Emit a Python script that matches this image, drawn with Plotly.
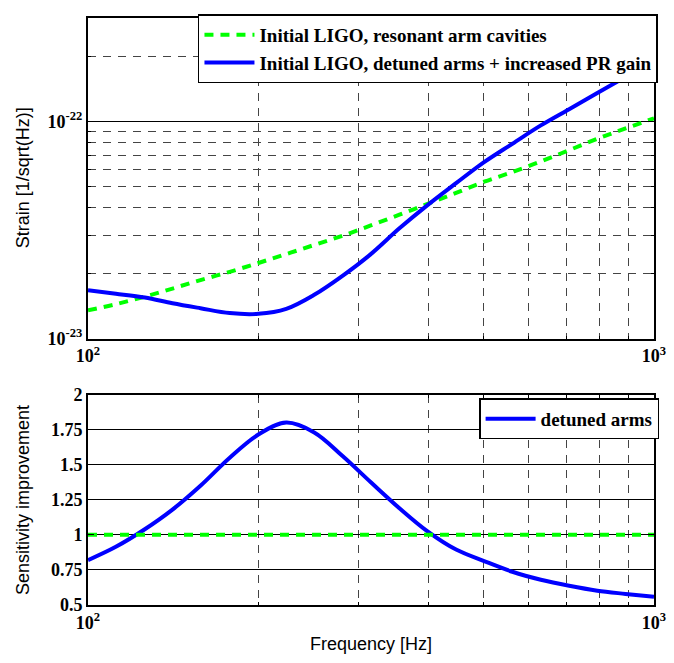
import plotly.graph_objects as go
from plotly.subplots import make_subplots

# ---- data ----
freq = [100, 112, 126, 141, 158, 178, 200, 224, 251, 282, 316, 355, 398, 447,
        501, 562, 631, 708, 794, 891, 1000]
strain_resonant = [1.35e-23, 1.44e-23, 1.56e-23, 1.70e-23, 1.86e-23, 2.03e-23,
                   2.23e-23, 2.45e-23, 2.70e-23, 2.98e-23, 3.32e-23, 3.72e-23,
                   4.17e-23, 4.69e-23, 5.28e-23, 5.85e-23, 6.55e-23, 7.38e-23,
                   8.33e-23, 9.30e-23, 1.035e-22]
strain_detuned = [1.67e-23, 1.61e-23, 1.545e-23, 1.455e-23, 1.38e-23, 1.31e-23,
                  1.30e-23, 1.37e-23, 1.59e-23, 1.95e-23, 2.45e-23, 3.22e-23,
                  4.12e-23, 5.2e-23, 6.5e-23, 7.9e-23, 9.6e-23, 1.14e-22,
                  1.355e-22, 1.605e-22, 1.90e-22]
improvement = [0.82, 0.915, 1.04, 1.18, 1.35, 1.55, 1.715, 1.80, 1.73, 1.56,
               1.375, 1.19, 1.025, 0.895, 0.813, 0.737, 0.68, 0.637, 0.602,
               0.579, 0.558]
baseline = [1.0] * len(freq)

legend_top = ["Initial LIGO, resonant arm cavities",
              "Initial LIGO, detuned arms + increased PR gain"]
legend_bot = "detuned arms"

x_ticks = [100, 1000]
x_ticktext = ["10<sup>2</sup>", "10<sup>3</sup>"]
x_minor = [200, 300, 400, 500, 600, 700, 800, 900]
y_top_ticks = [1e-23, 1e-22]
y_top_text = ["10<sup>-23</sup>", "10<sup>-22</sup>"]
y_top_minor = [2e-23, 3e-23, 4e-23, 5e-23, 6e-23, 7e-23, 8e-23, 9e-23, 2e-22, 3e-22]
y_bot_ticks = [0.5, 0.75, 1, 1.25, 1.5, 1.75, 2]
y_bot_text = ["0.5", "0.75", "1", "1.25", "1.5", "1.75", "2"]

BLUE = "#0000FF"
GREEN = "#00FF00"
TICKFONT = dict(family="Liberation Serif", size=18, color="black", weight="bold")
TITLEFONT = dict(family="Liberation Sans", size=18, color="black")
LEGFONT = dict(family="Liberation Serif", size=19, color="black", weight="bold")

fig = make_subplots(rows=2, cols=1, vertical_spacing=0.1)

fig.add_trace(go.Scatter(x=freq, y=strain_resonant, mode="lines",
                         name=legend_top[0], legend="legend",
                         line=dict(color=GREEN, width=4, dash="9px,7px", shape="spline")),
              row=1, col=1)
fig.add_trace(go.Scatter(x=freq, y=strain_detuned, mode="lines",
                         name=legend_top[1], legend="legend",
                         line=dict(color=BLUE, width=4, shape="spline")),
              row=1, col=1)
fig.add_trace(go.Scatter(x=freq, y=improvement, mode="lines",
                         name=legend_bot, legend="legend2",
                         line=dict(color=BLUE, width=4, shape="spline")),
              row=2, col=1)
fig.add_trace(go.Scatter(x=freq, y=baseline, mode="lines",
                         showlegend=False,
                         line=dict(color=GREEN, width=4, dash="9px,7px")),
              row=2, col=1)

common_x = dict(type="log", range=[2, 3], tickmode="array", tickvals=x_ticks,
                ticktext=x_ticktext, tickfont=TICKFONT, ticklabeloverflow="allow",
                showline=True, linecolor="black", linewidth=2, mirror="allticks",
                ticks="inside", ticklen=6, tickcolor="black",
                showgrid=True, gridcolor="black", gridwidth=1,
                minor=dict(tickvals=x_minor, showgrid=True, gridcolor="#444444",
                           griddash="8px,7px", gridwidth=1, ticks="inside",
                           ticklen=3, tickcolor="black"),
                zeroline=False)

fig.update_xaxes(**common_x, row=1, col=1)
fig.update_xaxes(**common_x, row=2, col=1)

fig.update_yaxes(type="log", range=[-23, -21.5229], tickmode="array",
                 tickvals=y_top_ticks, ticktext=y_top_text, tickfont=TICKFONT,
                 showline=True, linecolor="black", linewidth=2, mirror="allticks",
                 ticks="inside", ticklen=6, tickcolor="black",
                 showgrid=True, gridcolor="black", gridwidth=1,
                 minor=dict(tickvals=y_top_minor, showgrid=True, gridcolor="#444444",
                            griddash="8px,7px", gridwidth=1, ticks="inside",
                            ticklen=3, tickcolor="black"),
                 zeroline=False, row=1, col=1)
fig.update_yaxes(range=[0.5, 2], tickmode="array", tickvals=y_bot_ticks,
                 ticktext=y_bot_text, tickfont=TICKFONT,
                 showline=True, linecolor="black", linewidth=2, mirror="allticks",
                 ticks="inside", ticklen=6, tickcolor="black",
                 showgrid=True, gridcolor="black", gridwidth=1,
                 zeroline=False, row=2, col=1)

fig.update_layout(
    width=674, height=663,
    margin=dict(l=88, r=11, t=8, b=58),
    plot_bgcolor="white", paper_bgcolor="white",
    xaxis=dict(domain=[0, 1]),
    yaxis=dict(domain=[0.4539, 1.0]),
    yaxis2=dict(domain=[0.0, 0.3585]),
    legend=dict(x=1.007, y=1.006, xanchor="right", yanchor="top",
                bgcolor="white", bordercolor="black", borderwidth=1.5,
                font=LEGFONT, itemwidth=50, tracegroupgap=0),
    legend2=dict(x=1.009, y=0.352, xanchor="right", yanchor="top",
                 bgcolor="white", bordercolor="black", borderwidth=1.5,
                 font=LEGFONT, itemwidth=50),
    annotations=[
        dict(text="Strain [1/sqrt(Hz)]", textangle=-90, xref="paper", yref="paper",
             x=-0.1148, y=0.727, xanchor="center", yanchor="middle",
             showarrow=False, font=TITLEFONT),
        dict(text="Sensitivity improvement", textangle=-90, xref="paper", yref="paper",
             x=-0.1148, y=0.179, xanchor="center", yanchor="middle",
             showarrow=False, font=TITLEFONT),
        dict(text="Frequency [Hz]", xref="paper", yref="paper",
             x=0.5, y=-0.067, xanchor="center", yanchor="middle",
             showarrow=False, font=TITLEFONT),
    ],
)

fig.write_html("out.html", config={"displayModeBar": False},
               post_script="document.body.style.margin='0px';")
